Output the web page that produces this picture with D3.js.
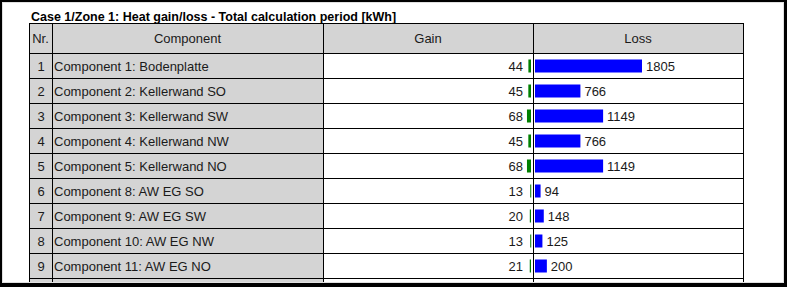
<!DOCTYPE html>
<html>
<head>
<meta charset="utf-8">
<script src="https://cdn.jsdelivr.net/npm/d3@7"></script>
<style>
	body { margin: 0; background: #fff; }
	svg text { font-family: "Liberation Sans", Arial, sans-serif; fill: #1a1a1a; }
	.title { font-weight: bold; font-size: 12.5px; fill: #000; }
	.cell { font-size: 13px; }
</style>
</head>
<body>
<svg id="chart" width="787" height="287"></svg>
<script>
/* Heat gain/loss table with inline bars */

var titleText = "Case 1/Zone 1: Heat gain/loss - Total calculation period [kWh]";
var headers = ["Nr.", "Component", "Gain", "Loss"];
var rowNr = [1, 2, 3, 4, 5, 6, 7, 8, 9];
var components = [
	"Component 1: Bodenplatte",
	"Component 2: Kellerwand SO",
	"Component 3: Kellerwand SW",
	"Component 4: Kellerwand NW",
	"Component 5: Kellerwand NO",
	"Component 8: AW EG SO",
	"Component 9: AW EG SW",
	"Component 10: AW EG NW",
	"Component 11: AW EG NO"
];
var gains = [44, 45, 68, 45, 68, 13, 20, 13, 21];
var losses = [1805, 766, 1149, 766, 1149, 94, 148, 125, 200];

function drawTable() {
	var svg = d3.select("#chart");
	var W = 787, H = 287;

	// column edges of the table
	var cols = [29, 52, 323, 533, 743];
	var headTop = 23, headBottom = 53, rowH = 25;
	var nRows = rowNr.length + 1; // one more (empty) row is cut off by the frame

	var y = d3.scaleBand()
		.domain(d3.range(nRows))
		.range([headBottom, headBottom + rowH * nRows]);

	// shared scale for gain and loss bars
	var x = d3.scaleLinear()
		.domain([0, d3.max(losses)])
		.range([0, 107]);

	var gridBottom = headBottom + rowH * nRows;

	// background
	svg.append("rect").attr("width", W).attr("height", H).attr("fill", "#fff");

	// Title
	svg.append("text")
		.attr("class", "title")
		.attr("x", 31)
		.attr("y", 21)
		.text(titleText);

	// header fill
	svg.append("rect")
		.attr("x", cols[0]).attr("y", headTop)
		.attr("width", cols[4] - cols[0]).attr("height", headBottom - headTop)
		.attr("fill", "#d4d4d4");

	// grey Nr / Component columns
	svg.append("rect")
		.attr("x", cols[0]).attr("y", headBottom)
		.attr("width", cols[2] - cols[0]).attr("height", gridBottom - headBottom)
		.attr("fill", "#d4d4d4");

	// header labels
	svg.selectAll(".head")
		.data(headers)
	  .enter().append("text")
		.attr("class", "cell head")
		.attr("x", function(d, i) { return (cols[i] + cols[i + 1]) / 2; })
		.attr("y", (headTop + headBottom) / 2 + 5)
		.attr("text-anchor", "middle")
		.text(function(d) { return d; });

	var rows = svg.selectAll(".row")
		.data(rowNr)
	  .enter().append("g")
		.attr("class", "row")
		.attr("transform", function(d, i) { return "translate(0," + y(i) + ")"; });

	var mid = rowH / 2;

	rows.append("text")
		.attr("class", "cell")
		.attr("x", (cols[0] + cols[1]) / 2 + 0.5)
		.attr("y", mid + 5)
		.attr("text-anchor", "middle")
		.text(function(d) { return d; });

	rows.append("text")
		.attr("class", "cell")
		.attr("x", cols[1] + 2)
		.attr("y", mid + 5)
		.text(function(d, i) { return components[i]; });

	// Gain bars grow to the left from the column divider
	rows.append("rect")
		.attr("x", function(d, i) { return cols[3] - 2 - x(gains[i]); })
		.attr("y", mid - 6)
		.attr("width", function(d, i) { return Math.max(1, x(gains[i])); })
		.attr("height", 13)
		.attr("fill", "#008000");

	rows.append("text")
		.attr("class", "cell")
		.attr("x", cols[3] - 10)
		.attr("y", mid + 5)
		.attr("text-anchor", "end")
		.text(function(d, i) { return gains[i]; });

	// Loss bars grow to the right
	rows.append("rect")
		.attr("x", cols[3] + 2)
		.attr("y", mid - 6)
		.attr("width", function(d, i) { return x(losses[i]); })
		.attr("height", 13)
		.attr("fill", "#0000ff");

	rows.append("text")
		.attr("class", "cell")
		.attr("x", function(d, i) { return cols[3] + 2 + x(losses[i]) + 4; })
		.attr("y", mid + 5)
		.text(function(d, i) { return losses[i]; });

	// grid lines
	var hLines = [headTop, headBottom].concat(d3.range(1, nRows + 1).map(function(i) { return headBottom + rowH * i; }));
	svg.selectAll(".hline")
		.data(hLines)
	  .enter().append("line")
		.attr("x1", cols[0]).attr("x2", cols[4])
		.attr("y1", function(d) { return d + 0.5; })
		.attr("y2", function(d) { return d + 0.5; })
		.attr("stroke", "#000");

	svg.selectAll(".vline")
		.data(cols)
	  .enter().append("line")
		.attr("x1", function(d) { return d + 0.5; })
		.attr("x2", function(d) { return d + 0.5; })
		.attr("y1", headTop).attr("y2", gridBottom)
		.attr("stroke", "#000");

	// outer frame
	svg.append("rect")
		.attr("x", 2.5).attr("y", 2.5)
		.attr("width", W - 6).attr("height", H - 7)
		.attr("fill", "none")
		.attr("stroke", "#e0e0e0");
	svg.append("path")
		.attr("d", "M0,0H" + W + "V" + H + "H0Z M2,2V283H784V2Z")
		.attr("fill", "#000")
		.attr("fill-rule", "evenodd");
}

drawTable();
</script>
</body>
</html>
